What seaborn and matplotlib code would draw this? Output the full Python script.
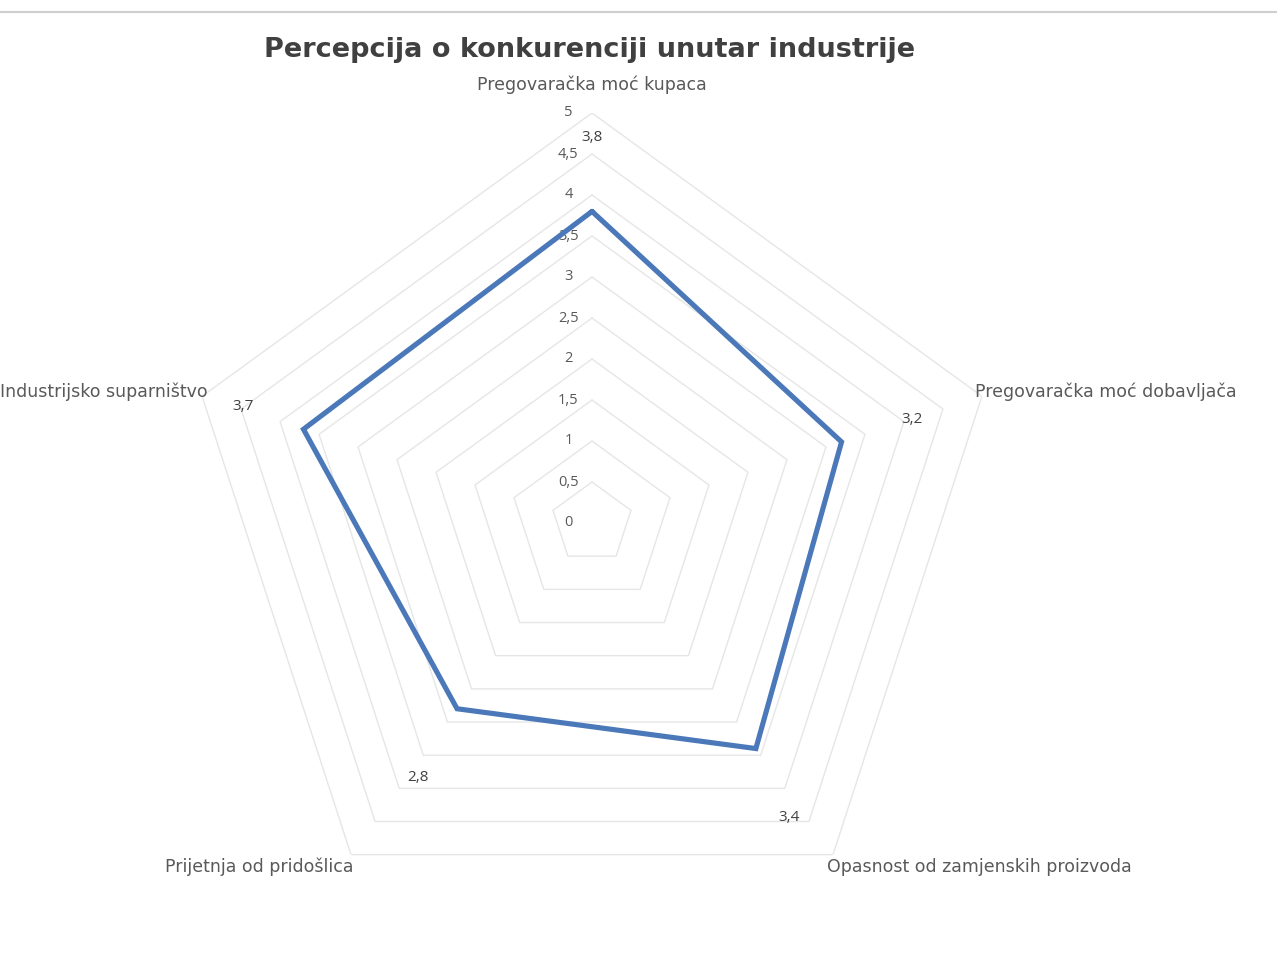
import numpy as np
import matplotlib
matplotlib.use("Agg")
import matplotlib.pyplot as plt
from matplotlib.lines import Line2D
import seaborn as sns

sns.set_theme(style="white")
plt.rcParams['font.family'] = ['DejaVu Sans']

categories = ["Pregovaračka moć kupaca", "Pregovaračka moć dobavljača",
              "Opasnost od zamjenskih proizvoda", "Prijetnja od pridošlica",
              "Industrijsko suparništvo"]
values = [3.8, 3.2, 3.4, 2.8, 3.7]
value_labels = ["3,8", "3,2", "3,4", "2,8", "3,7"]
levels = [0.5, 1, 1.5, 2, 2.5, 3, 3.5, 4, 4.5, 5]
level_labels = ["0", "0,5", "1", "1,5", "2", "2,5", "3", "3,5", "4", "4,5", "5"]

n = len(categories)
angles = np.linspace(0, 2 * np.pi, n, endpoint=False)
ang_closed = np.append(angles, angles[0] + 2 * np.pi)

fig = plt.figure(figsize=(12.77, 9.69), dpi=100)
ax = fig.add_axes([182 / 1277, 36 / 969, 820 / 1277, 820 / 969], projection='polar')
ax.set_theta_offset(np.pi / 2)
ax.set_theta_direction(-1)
ax.set_ylim(0, 5)
ax.set_xticks([])
ax.set_yticks([])
ax.grid(False)
ax.spines['polar'].set_visible(False)
ax.patch.set_alpha(0)

# pentagon gridlines (no spokes, like the original)
grid_col = "#e6e6e6"
for lv in levels:
    ax.plot(ang_closed, [lv] * (n + 1), color=grid_col, lw=1.0, zorder=1)

# radial tick labels along the top spoke
for lv, lab in zip([0] + levels, level_labels):
    ax.annotate(lab, xy=(0, lv), xytext=(-17, 0), textcoords='offset points',
                ha='center', va='center', fontsize=10.5, color="#595959",
                fontfamily='Open Sans')

vals_closed = values + values[:1]
sns.lineplot(x=ang_closed, y=vals_closed, ax=ax, sort=False, color="#4a78b8",
             lw=3.7, zorder=5, solid_joinstyle='miter')

# data labels, sitting on each spoke beyond the value
lab_off = [(0, 0), (0, 0), (-7, -7), (3, -6.5), (7, 0)]
for a, v, lab, off in zip(angles, values, value_labels, lab_off):
    ax.annotate(lab, xy=(a, v + 0.9), xytext=off, textcoords='offset points',
                ha='center', va='center', fontsize=11, color="#404040",
                fontfamily='Open Sans', zorder=6)

# category labels
cat_pos = [((0, 20), 'center'), ((-5, 3.6), 'left'), ((-4, -9), 'left'),
           ((1.5, -9), 'right'), ((4, 3.6), 'right')]
for a, lab, (off, ha) in zip(angles, categories, cat_pos):
    ax.annotate(lab, xy=(a, 5), xytext=off, textcoords='offset points',
                ha=ha, va='center', fontsize=12.5, color="#595959")

fig.text(590 / 1277, 1 - 50 / 969, "Percepcija o konkurenciji unutar industrije",
         ha='center', va='center', fontsize=19.5, fontweight='bold', color="#404040")

fig.add_artist(Line2D([0, 1], [1 - 11.5 / 969, 1 - 11.5 / 969], color="#cfcfcf",
                      lw=1.5, transform=fig.transFigure))

fig.savefig("out.png", dpi=100)
